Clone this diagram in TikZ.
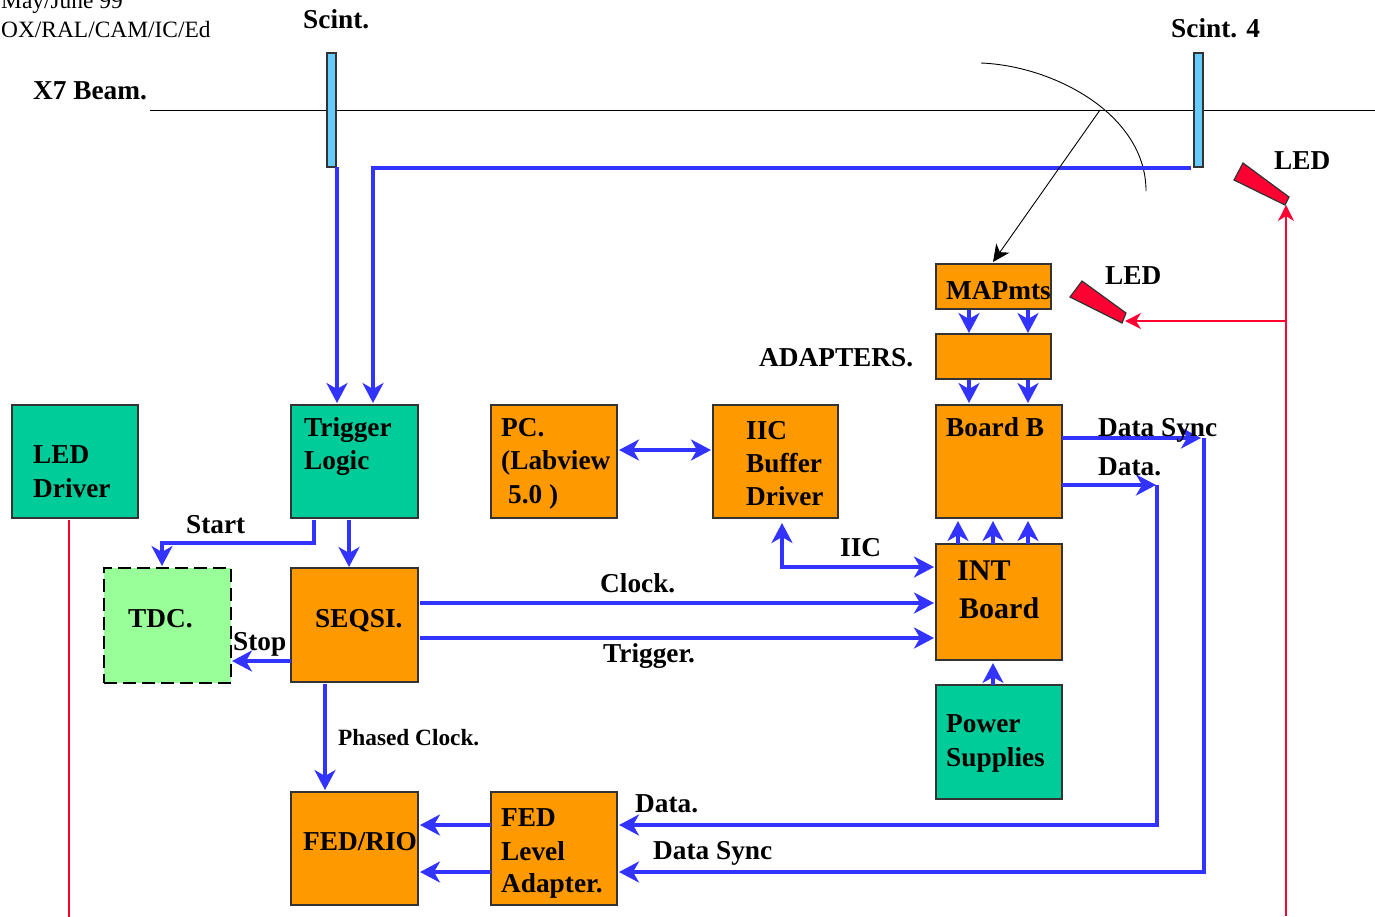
\documentclass[tikz,border=0pt]{standalone}
\usepackage{fontspec}
\setmainfont{Liberation Serif}
\usetikzlibrary{arrows.meta}
\definecolor{orangebox}{HTML}{FF9900}
\definecolor{tealbox}{HTML}{00CC99}
\definecolor{greenbox}{HTML}{99FF99}
\definecolor{flowblue}{HTML}{3333FF}
\definecolor{scintblue}{HTML}{66CCFF}
\definecolor{ledred}{HTML}{FF0033}
\definecolor{edgegray}{HTML}{333333}
\tikzset{
  x=1pt,y=-1pt,
  box/.style={draw=edgegray,line width=1.3pt,inner sep=0pt,outer sep=0pt,anchor=center},
  orangeb/.style={box,fill=orangebox},
  tealb/.style={box,fill=tealbox},
  tdcb/.style={box,fill=greenbox,draw=black,dash pattern=on 13pt off 6pt,line width=1.5pt},
  scintb/.style={box,fill=scintblue},
  txt/.style={inner sep=0pt,anchor=base west,align=left,font=\fontsize{27.3}{33}\selectfont\bfseries},
  thin txt/.style={inner sep=0pt,anchor=base west,align=left,font=\fontsize{23.4}{30}\selectfont},
  small txt/.style={inner sep=0pt,anchor=base west,font=\fontsize{23.3}{28}\selectfont\bfseries},
  flow/.style={draw=flowblue,line width=3.4pt,-{Stealth[inset=6pt,length=20pt,width=21pt]}},
  flowback/.style={draw=flowblue,line width=3.4pt,{Stealth[inset=6pt,length=20pt,width=21pt]}-{Stealth[inset=6pt,length=20pt,width=21pt]}},
  redline/.style={draw=ledred,line width=1.2pt},
  redarrow/.style={redline,-{Stealth[inset=5pt,length=16pt,width=16pt]}},
  blackarrow/.style={draw=black,line width=0.9pt,-{Stealth[inset=5pt,length=17pt,width=16pt]}},
  ledshape/.style={fill=ledred,draw=edgegray,line width=1.2pt},
}
% boxes: stroke centred on the given corners (x1,y1)-(x2,y2)
\newcommand{\bx}[6]{\node[#6,minimum width={(#4-#2)*1pt},minimum height={(#5-#3)*1pt}] (#1) at ({(#2+#4)/2},{(#3+#5)/2}) {};}
\newcommand{\tx}[5][txt]{\node[#1] (#2) at (#3,#4) {#5};}
\begin{document}
\begin{tikzpicture}
\useasboundingbox (0,0) rectangle (1375,916);
% beam and scintillators
\coordinate (beamL) at (150,110);
\coordinate (beamR) at (1375,110);
\coordinate (hit) at (1100,110);
\coordinate (arcA) at (981,63);
\coordinate (arcB) at (1146,191);
\draw[line width=0.9pt] (beamL) -- (beamR);
\bx{sA}{327}{53}{336}{167}{scintb}
\bx{sB}{1194}{53}{1203}{167}{scintb}
\draw[line width=0.9pt] (arcA) .. controls (1055,66) and (1146,115) .. (arcB);
% boxes
\bx{ledd}{12}{405}{138}{518}{tealb}
\bx{trig}{291}{405}{418}{518}{tealb}
\bx{pc}{491}{405}{617}{518}{orangeb}
\bx{iic}{713}{405}{838}{518}{orangeb}
\bx{bb}{936}{405}{1062}{518}{orangeb}
\bx{map}{936}{264}{1051}{309}{orangeb}
\bx{ada}{936}{334}{1051}{379}{orangeb}
\bx{int}{936}{544}{1062}{660}{orangeb}
\bx{pow}{936}{685}{1062}{799}{tealb}
\bx{tdc}{104}{568}{231}{683}{tdcb}
\bx{seq}{291}{568}{418}{682}{orangeb}
\bx{rio}{291}{792}{418}{905}{orangeb}
\bx{fla}{491}{792}{617}{905}{orangeb}
% LED heads
\draw[ledshape] (1243,163) -- (1289,197) -- (1285,205) -- (1234,180) -- cycle;
\draw[ledshape] (1082,281) -- (1126,313) -- (1122,323) -- (1070,297) -- cycle;
\coordinate (ledA) at (1286,205);
\coordinate (ledB) at (1125,321);
\coordinate (redBot) at (1286,916);
\coordinate (redJoin) at (1286,321);
\coordinate (leddEnd) at (69,916);
% blue connectors
\draw[flow] ([xshift=1pt]sA.south east) -- ([xshift=1pt,yshift=2pt]sA.south east |- trig.north);
\draw[flow] ([shift={(-3,1)}]sB.south west) -- ([shift={(82,1)}]trig.north west |- sB.south west) -- ([shift={(82,-2)}]trig.north west);
\draw[flow] ([shift={(23,2)}]trig.south west) |- ([shift={(58,-25)}]tdc.north west) -- ([shift={(58,-2)}]tdc.north west);
\draw[flow] ([shift={(58,2)}]trig.south west) -- ([shift={(58,-1)}]seq.north west);
\draw[flow] ([shift={(0,93)}]seq.north west) -- ([shift={(1,93)}]tdc.north east);
\draw[flow] ([shift={(34,2)}]seq.south west) -- ([shift={(34,-2)}]rio.north west);
\draw[flow] ([shift={(2,35)}]seq.north east) -- ([shift={(-2,59)}]int.north west);
\draw[flow] ([shift={(2,70)}]seq.north east) -- ([shift={(-2,94)}]int.north west);
\draw[flowback] ([shift={(2,45)}]pc.north east) -- ([shift={(-2,45)}]iic.north west);
\draw[flowback] ([shift={(69,5)}]iic.south west) |- ([shift={(-2,23)}]int.north west);
\foreach \i in {33,92}{
  \draw[flow] ([shift={(\i,1)}]map.south west) -- ([shift={(\i,-1)}]ada.north west);
  \draw[flow] ([shift={(\i,1)}]ada.south west) -- ([shift={(\i,-2)}]bb.north west);
}
\foreach \i in {22,57,92}{
  \draw[flow] ([shift={(\i,0)}]int.north west) -- ([shift={(\i,3)}]bb.south west);
}
\draw[flow] ([shift={(57,0)}]pow.north west) -- ([shift={(57,3)}]int.south west);
\coordinate (dsTurn) at ([shift={(142,33)}]bb.north east);
\coordinate (dTurn) at ([shift={(95,80)}]bb.north east);
\draw[flow] ([shift={(0,33)}]bb.north east) -- ([shift={(-3,0)}]dsTurn);
\draw[flow] ([shift={(0,80)}]bb.north east) -- ([shift={(-1,0)}]dTurn);
\draw[flow] (dTurn) |- ([shift={(2,33)}]fla.north east);
\draw[flow] (dsTurn) |- ([shift={(2,80)}]fla.north east);
\draw[flow] ([shift={(0,33)}]fla.north west) -- ([shift={(2,33)}]rio.north east);
\draw[flow] ([shift={(0,80)}]fla.north west) -- ([shift={(2,80)}]rio.north east);
% red and black
\draw[redline] ([shift={(57,2)}]ledd.south west) -- ([shift={(57,2)}]ledd.south west |- leddEnd);
\draw[redarrow] (redBot) -- (ledA);
\draw[redarrow] (redJoin) -- (ledB);
\draw[blackarrow] (hit) -- ([shift={(57,-2)}]map.north west);
% labels
\tx[thin txt]{t1}{1}{8}{May/June 99}
\tx[thin txt]{t2}{1}{37}{OX/RAL/CAM/IC/Ed}
\tx{t3}{303}{28}{Scint.}
\tx{t4}{1171}{37}{Scint. 4}
\tx{t5}{33}{99}{X7 Beam.}
\tx{t6}{1274}{169}{LED}
\tx{t7}{1105}{284}{LED}
\tx{t8}{759}{366}{ADAPTERS.}
\tx{t9}{1098}{436}{Data Sync}
\tx{t10}{1098}{475}{Data.}
\tx{t11}{840}{556}{IIC}
\tx{t12}{600}{592}{Clock.}
\tx{t13}{603}{662}{Trigger.}
\tx{t14}{186}{533}{Start}
\tx{t15}{233}{650}{Stop}
\tx[small txt]{t16}{338}{745}{Phased Clock.}
\tx{t17}{635}{812}{Data.}
\tx{t18}{653}{859}{Data Sync}
\tx{t19}{128}{627}{TDC.}
\tx{t20}{315}{627}{SEQSI.}
\tx{t21}{303}{850}{FED/RIO}
\tx{t22}{501}{826}{FED}
\tx{t23}{501}{860}{Level}
\tx{t24}{501}{892}{Adapter.}
\tx{t25}{946}{732}{Power}
\tx{t26}{946}{766}{Supplies}
\node[txt,font=\fontsize{30}{38}\selectfont\bfseries] (t27) at (957,580) {INT};
\node[txt,font=\fontsize{30}{38}\selectfont\bfseries] (t28) at (959,618) {Board};
\tx{t29}{946}{436}{Board B}
\tx{t30}{746}{439}{IIC}
\tx{t31}{746}{472}{Buffer}
\tx{t32}{746}{505}{Driver}
\tx{t33}{501}{436}{PC.}
\tx{t34}{501}{469}{(Labview}
\tx{t35}{508}{503}{5.0 )}
\tx{t36}{946}{299}{MAPmts}
\tx{t37}{33}{463}{LED}
\tx{t38}{33}{497}{Driver}
\tx{t39}{304}{436}{Trigger}
\tx{t40}{304}{469}{Logic}
\end{tikzpicture}
\end{document}
